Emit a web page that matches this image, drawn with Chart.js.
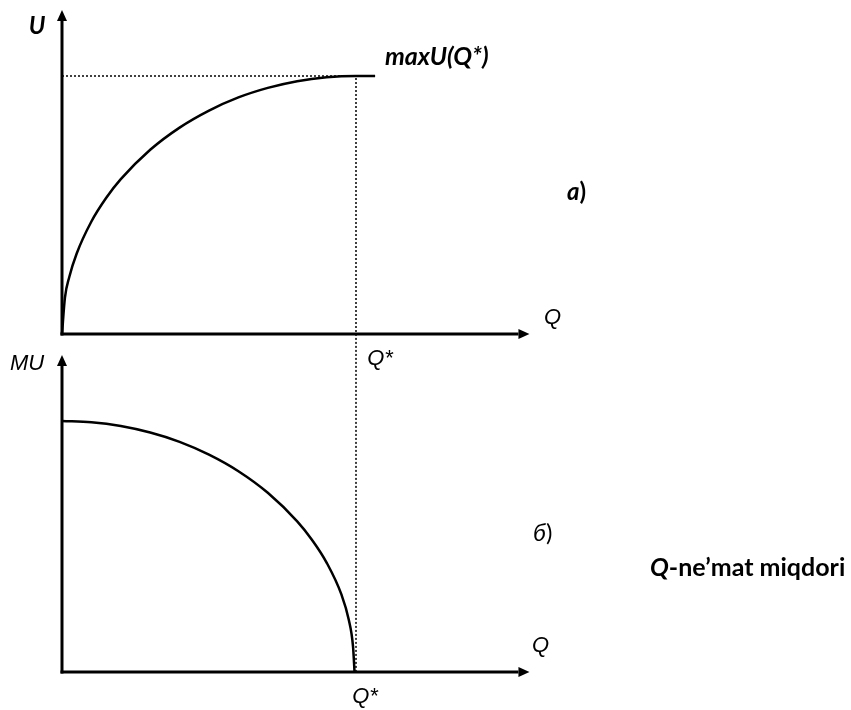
<!DOCTYPE html>
<html>
<head>
<meta charset="utf-8">
<script src="https://cdn.jsdelivr.net/npm/chart.js@4"></script>
<style>
html, body { margin: 0; padding: 0; background: #fff; }
.wrap { position: relative; width: 851px; height: 710px; }
canvas { position: absolute; left: 0; top: 0; }
</style>
</head>
<body>
<div class="wrap">
<canvas id="chart_totalUtility" width="851" height="710"></canvas>
<canvas id="chart_marginalUtility" width="851" height="710"></canvas>
</div>
<script>
// Q* and max U are the reference values (10 units each)
var qStar = 10;
var uMax = 10;

// a) total utility U(Q)
var totalQ = [0, 0.1, 0.25, 0.5, 1, 1.5, 2, 3, 4, 5, 6, 7, 8, 9, 10, 10.65];
var totalU = [0, 1.41, 2.22, 3.12, 4.36, 5.27, 6.0, 7.14, 8.0, 8.66, 9.17, 9.54, 9.8, 9.95, 10, 10];

// б) marginal utility MU(Q)
var marginalQ = [0, 1, 2, 3, 4, 5, 6, 7, 8, 8.5, 9, 9.5, 9.75, 9.9, 9.95];
var marginalMU = [10, 9.95, 9.8, 9.54, 9.17, 8.66, 8.0, 7.14, 6.0, 5.27, 4.36, 3.1, 2.1, 1.0, 0];

// axis extents (where the arrows end)
var qAxisEnd = 15.9;
var uAxisEnd = 12.56;
var muAxisEnd = 12.63;

function toPoints(xs, ys) {
    return xs.map(function (x, i) { return { x: x, y: ys[i] }; });
}

function drawArrow(ctx, x1, y1, x2, y2) {
    var ang = Math.atan2(y2 - y1, x2 - x1);
    var len = 11, half = 5;
    ctx.beginPath();
    ctx.moveTo(x1, y1);
    ctx.lineTo(x2 - Math.cos(ang) * len, y2 - Math.sin(ang) * len);
    ctx.stroke();
    ctx.beginPath();
    ctx.moveTo(x2, y2);
    ctx.lineTo(x2 - Math.cos(ang) * len - Math.sin(ang) * half, y2 - Math.sin(ang) * len + Math.cos(ang) * half);
    ctx.lineTo(x2 - Math.cos(ang) * len + Math.sin(ang) * half, y2 - Math.sin(ang) * len - Math.cos(ang) * half);
    ctx.closePath();
    ctx.fill();
}

function text(ctx, str, x, y, font, align) {
    ctx.font = font;
    ctx.textAlign = align || 'center';
    ctx.textBaseline = 'middle';
    ctx.fillText(str, x, y);
}

// draws pieces one after another: [[text, font], ...]
function runs(ctx, parts, x, y) {
    ctx.textAlign = 'left';
    ctx.textBaseline = 'middle';
    parts.forEach(function (p) {
        ctx.font = p[1];
        ctx.fillText(p[0], x, y);
        x += ctx.measureText(p[0]).width;
    });
}

var calibriBI = 'italic bold 24px Lato, "Noto Sans", sans-serif';
var calibriB = 'bold 24px Lato, "Noto Sans", sans-serif';
var calibriI = 'italic 24px Lato, "Noto Sans", sans-serif';
var calibri = '24px Lato, "Noto Sans", sans-serif';
var arialI = 'italic 22px "Liberation Sans", Arial, sans-serif';

var axesPlugin = {
    id: 'axesPlugin',
    beforeDraw: function (chart, args, opts) {
        if (opts.panel !== 'a') return;
        var ctx = chart.ctx;
        ctx.save();
        ctx.fillStyle = 'white';
        ctx.fillRect(0, 0, chart.width, chart.height);
        ctx.restore();
    },
    afterDraw: function (chart, args, opts) {
        var ctx = chart.ctx;
        var sx = chart.scales.x, sy = chart.scales.y;
        var ox = sx.getPixelForValue(0), oy = sy.getPixelForValue(0);
        var xEnd = sx.getPixelForValue(qAxisEnd);
        var yEnd = sy.getPixelForValue(opts.yEnd);
        var qs = sx.getPixelForValue(qStar);
        ctx.save();
        ctx.strokeStyle = '#000';
        ctx.fillStyle = '#000';
        ctx.lineWidth = 3;
        drawArrow(ctx, ox, oy + 1.5, ox, yEnd);
        drawArrow(ctx, ox - 1.5, oy, xEnd, oy);
        if (opts.panel === 'a') {
            text(ctx, 'U', ox - 25, yEnd + 16, calibriBI);
            text(ctx, 'maxU(Q*)', qs + 29, sy.getPixelForValue(uMax) - 19, 'italic bold 25px Lato, "Noto Sans", sans-serif', 'left');
            runs(ctx, [['a', calibriBI], [')', calibriB]], 567, 192);
            text(ctx, 'Q', xEnd + 23, oy - 16, arialI);
            text(ctx, 'Q*', qs + 24, oy + 25, arialI);
        } else {
            text(ctx, 'MU', ox - 35, yEnd + 9, arialI);
            runs(ctx, [['б', calibriI], [')', calibri]], 533, 533);
            text(ctx, 'Q', xEnd + 11, oy - 26, arialI);
            text(ctx, 'Q*', qs + 9, oy + 25, arialI);
            runs(ctx, [['Q', 'italic bold 25px Lato, "Noto Sans", sans-serif'],
                       ['-ne\u2019mat miqdori', 'bold 25px Lato, "Noto Sans", sans-serif']], 650, 568);
        }
        ctx.restore();
    }
};

function baseOptions(yMin, yMax, panel, yEnd) {
    return {
        animation: false,
        responsive: false,
        maintainAspectRatio: false,
        layout: { padding: 0 },
        plugins: {
            legend: { display: false },
            tooltip: { enabled: false },
            axesPlugin: { panel: panel, yEnd: yEnd }
        },
        scales: {
            x: { type: 'linear', display: false, min: -2.1088, max: 26.8367 },
            y: { type: 'linear', display: false, min: yMin, max: yMax }
        }
    };
}

var chart_totalUtility = new Chart(document.getElementById('chart_totalUtility'), {
    type: 'scatter',
    data: {
        datasets: [
            {
                label: 'U',
                data: toPoints(totalQ, totalU),
                showLine: true,
                borderColor: '#000',
                borderWidth: 2.5,
                pointRadius: 0,
                cubicInterpolationMode: 'monotone',
                clip: false
            },
            {
                label: 'guide',
                data: [{ x: 0, y: uMax }, { x: qStar, y: uMax }, { x: qStar, y: 0 }],
                showLine: true,
                borderColor: '#000',
                borderWidth: 1.5,
                borderDash: [2, 2],
                pointRadius: 0,
                clip: false
            }
        ]
    },
    options: baseOptions(-14.574, 12.9457, 'a', uAxisEnd),
    plugins: [axesPlugin]
});

var chart_marginalUtility = new Chart(document.getElementById('chart_marginalUtility'), {
    type: 'scatter',
    data: {
        datasets: [
            {
                label: 'MU',
                data: toPoints(marginalQ, marginalMU),
                showLine: true,
                borderColor: '#000',
                borderWidth: 2.5,
                pointRadius: 0,
                cubicInterpolationMode: 'monotone',
                clip: false
            },
            {
                // continues the Q* guide down from the upper panel's axis
                label: 'guide',
                data: [{ x: qStar, y: 13.47 }, { x: qStar, y: 0 }],
                showLine: true,
                borderColor: '#000',
                borderWidth: 1.5,
                borderDash: [2, 2],
                pointRadius: 0,
                clip: false
            }
        ]
    },
    options: baseOptions(-1.514, 26.773, 'b', muAxisEnd),
    plugins: [axesPlugin]
});
</script>
</body>
</html>
